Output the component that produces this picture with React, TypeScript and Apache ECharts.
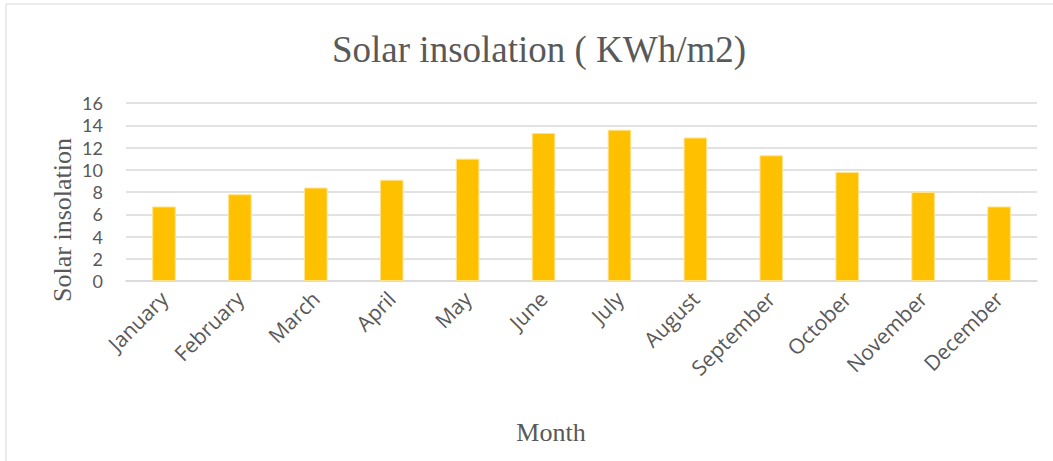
import React, { useEffect, useRef } from "react";
import * as echarts from "echarts";

const months = [
  "January", "February", "March", "April", "May", "June",
  "July", "August", "September", "October", "November", "December",
];
const insolation = [6.7, 7.8, 8.4, 9.1, 11.0, 13.3, 13.6, 12.9, 11.3, 9.8, 8.0, 6.7];
const chartTitle = "Solar insolation ( KWh/m2)";
const yTitle = "Solar insolation";
const xTitle = "Month";

const serif = '"Liberation Serif", "Times New Roman", serif';
const sans = '"Open Sans", "Noto Sans", sans-serif';
const textColor = "#595959";
const gridColor = "#D9D9D9";

export default function App() {
  const ref = useRef<HTMLDivElement>(null);
  useEffect(() => {
    if (!ref.current) return;
    const chart = echarts.init(ref.current, undefined, { renderer: "svg" });
    chart.setOption({
      animation: false,
      backgroundColor: "#ffffff",
      title: {
        text: chartTitle,
        left: 327,
        top: 26,
        textStyle: { fontFamily: serif, fontSize: 37, fontWeight: "normal", color: textColor },
      },
      grid: { left: 126, right: 16, top: 103, bottom: 180, containLabel: false },
      xAxis: {
        type: "category",
        data: months,
        axisLine: { show: true, lineStyle: { color: gridColor, width: 1.5 } },
        axisTick: { show: false },
        axisLabel: {
          rotate: 45,
          interval: 0,
          margin: 14,
          fontFamily: sans,
          fontSize: 21,
          color: textColor,
        },
      },
      yAxis: {
        type: "value",
        min: 0,
        max: 16,
        interval: 2,
        axisLine: { show: false },
        axisTick: { show: false },
        splitLine: { lineStyle: { color: gridColor, width: 1.5 } },
        axisLabel: { margin: 23, fontFamily: "Lato, sans-serif", fontSize: 18, lineHeight: 20, color: textColor },
      },
      series: [
        {
          type: "bar",
          data: insolation,
          barWidth: "31%",
          itemStyle: { color: "#FFC000", borderColor: "#FFE38A", borderWidth: 1 },
        },
      ],
      graphic: [
        {
          type: "rect",
          shape: { x: 6, y: 4, width: 1200, height: 600 },
          style: { fill: "none", stroke: gridColor, lineWidth: 1 },
          silent: true,
          z: -1,
        },
        {
          type: "text",
          x: 62,
          y: 220,
          rotation: Math.PI / 2,
          style: {
            text: yTitle,
            fontFamily: serif,
            fontSize: 26,
            lineHeight: 22,
            fill: textColor,
            align: "center",
            verticalAlign: "middle",
          },
        },
        {
          type: "text",
          x: 551,
          y: 432,
          style: {
            text: xTitle,
            fontFamily: serif,
            fontSize: 26,
            fill: textColor,
            align: "center",
            verticalAlign: "middle",
          },
        },
      ],
    });
    return () => chart.dispose();
  }, []);
  return (
    <div
      ref={ref}
      style={{ position: "fixed", left: 0, top: 0, width: 1053, height: 461 }}
    />
  );
}
